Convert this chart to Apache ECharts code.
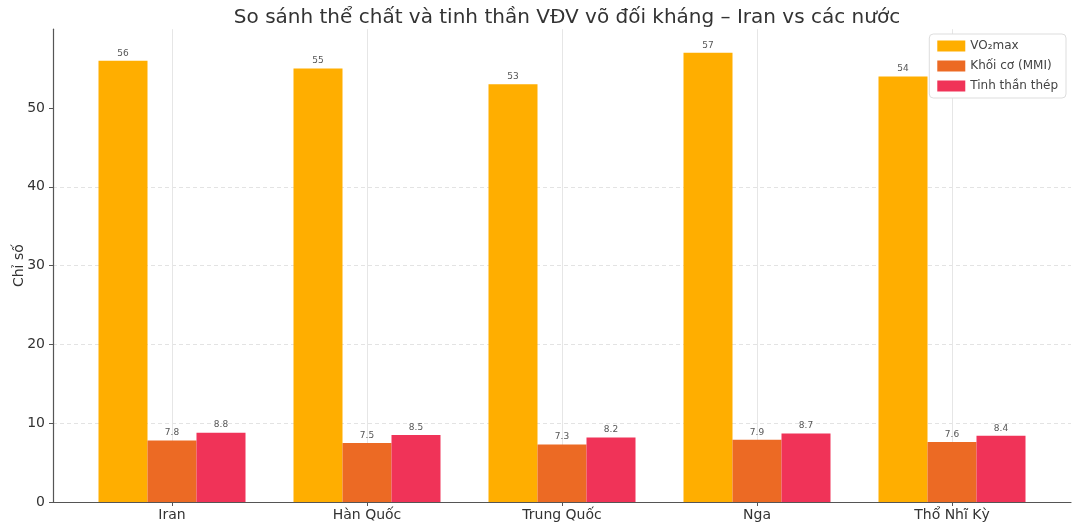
<!DOCTYPE html>
<html><head><meta charset="utf-8">
<script src="https://cdn.jsdelivr.net/npm/echarts@6/dist/echarts.min.js"></script>
<style>html,body{margin:0;padding:0;background:#fff}#c{width:1080px;height:530px}</style>
</head><body><div id="c"></div>
<script>
const categories = ['Iran', 'Hàn Quốc', 'Trung Quốc', 'Nga', 'Thổ Nhĩ Kỳ'];
const vo2max = [56, 55, 53, 57, 54];
const muscle = [7.8, 7.5, 7.3, 7.9, 7.6];
const spirit = [8.8, 8.5, 8.2, 8.7, 8.4];
const seriesNames = ['VO₂max', 'Khối cơ (MMI)', 'Tinh thần thép'];
const yTicks = [0, 10, 20, 30, 40, 50];

const FONT = 'DejaVu Sans';
const chart = echarts.init(document.getElementById('c'));
const lbl = {show: true, position: 'top', distance: 3, fontSize: 9, color: '#555', fontFamily: FONT};
const grid = {left: 53, right: 9, top: 29.2, bottom: 28, containLabel: false, outerBoundsMode: 'none'};
const inner = {left: 74.5, right: 30.5, top: 29.2, bottom: 28, containLabel: false, outerBoundsMode: 'none'};
chart.setOption({
  animation: false,
  textStyle: {fontFamily: FONT},
  title: {text: 'So sánh thể chất và tinh thần VĐV võ đối kháng – Iran vs các nước',
    left: 562, textAlign: 'center', top: 3,
    textStyle: {fontSize: 20, fontWeight: 'normal', color: '#333', fontFamily: FONT}},
  legend: {orient: 'vertical', right: 14, top: 34, itemWidth: 28, itemHeight: 11, itemGap: 8,
    backgroundColor: '#fff', borderColor: '#ddd', borderWidth: 1, borderRadius: 4, padding: [6, 8],
    textStyle: {fontSize: 12, color: '#444', fontFamily: FONT}, icon: 'rect', data: seriesNames},
  grid: [grid, inner],
  xAxis: [
    {type: 'value', gridIndex: 0, min: 0, max: 1, axisLine: {show: true, lineStyle: {color: '#555', width: 1.2}},
      axisTick: {show: false}, axisLabel: {show: false}, splitLine: {show: false}},
    {type: 'category', gridIndex: 1, data: categories, axisLine: {show: false},
      axisTick: {show: true, alignWithLabel: true, length: 4, lineStyle: {color: '#555'}},
      axisLabel: {fontSize: 14, color: '#333', margin: 6, fontFamily: FONT},
      splitLine: {show: true, alignWithLabel: true, lineStyle: {color: '#e6e6e6', type: 'solid'}}}
  ],
  yAxis: [
    {type: 'value', gridIndex: 0, min: 0, max: 60, interval: 10, name: 'Chỉ số', nameLocation: 'middle', nameGap: 27,
      nameMoveOverlap: false,
      nameTextStyle: {fontSize: 14, color: '#333', fontFamily: FONT},
      axisLine: {show: true, lineStyle: {color: '#555', width: 1.2}},
      axisTick: {show: true, length: 4, lineStyle: {color: '#555'}, customValues: yTicks},
      axisLabel: {fontSize: 14, color: '#333', margin: 8, customValues: yTicks, fontFamily: FONT},
      splitLine: {show: true, showMaxLine: false, lineStyle: {color: '#e3e3e3', type: [4, 3]}}},
    {type: 'value', gridIndex: 1, min: 0, max: 60, interval: 10, show: false, splitLine: {show: false}}
  ],
  series: [
    {name: seriesNames[0], type: 'bar', xAxisIndex: 1, yAxisIndex: 1, data: vo2max, barWidth: 49, barGap: '0%',
      itemStyle: {color: '#FFAE00'}, label: lbl},
    {name: seriesNames[1], type: 'bar', xAxisIndex: 1, yAxisIndex: 1, data: muscle, barWidth: 49, barGap: '0%',
      itemStyle: {color: '#EC6A24'}, label: lbl},
    {name: seriesNames[2], type: 'bar', xAxisIndex: 1, yAxisIndex: 1, data: spirit, barWidth: 49, barGap: '0%',
      itemStyle: {color: '#F03358'}, label: lbl}
  ]
});
</script></body></html>
